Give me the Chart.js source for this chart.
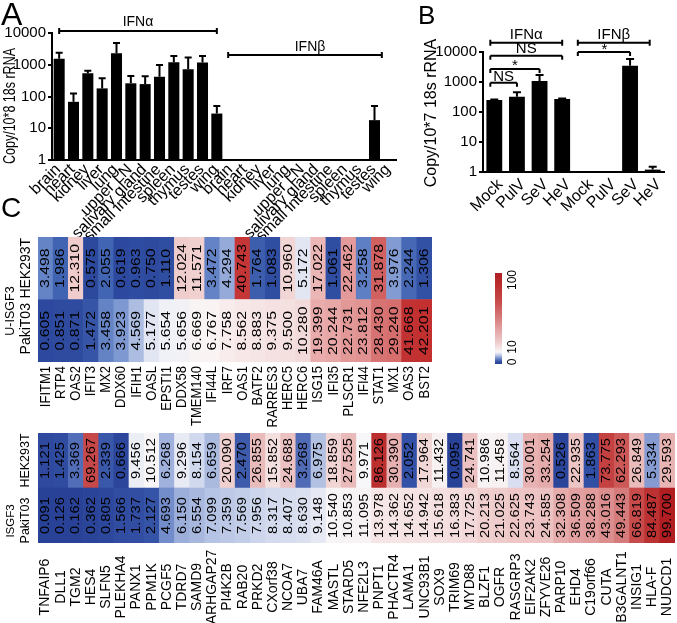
<!DOCTYPE html>
<html>
<head>
<meta charset="utf-8">
<script src="https://cdn.jsdelivr.net/npm/chart.js@4.4.1/dist/chart.umd.min.js"></script>
<style>
  body { margin: 0; background: #fff; }
  #wrap { position: relative; width: 677px; height: 623px; overflow: hidden; background: #fff; }
  canvas { position: absolute; }
  .letter { position: absolute; font-family: "Liberation Sans", Arial, sans-serif; color: #000; line-height: 1; }
</style>
</head>
<body>
<div id="wrap">
  <canvas id="chartA" width="412" height="262" style="left:0;top:0"></canvas>
  <canvas id="chartB" width="267" height="255" style="left:410px;top:0"></canvas>
  <canvas id="heat1" width="677" height="215" style="left:0;top:228px"></canvas>
  <canvas id="heat2" width="677" height="198" style="left:0;top:425px"></canvas>
  <div class="letter" style="left:1px;top:-2px;font-size:32px">A</div>
  <div class="letter" style="left:418px;top:2px;font-size:26px">B</div>
  <div class="letter" style="left:1px;top:194px;font-size:28px">C</div>
</div>
<script>
// ---- 데이터 ----
const tissues = ["brain", "heart", "kidney", "liver", "lung", "upper LN", "salivary gland",
                 "small intestine", "spleen", "thymus", "testes", "wing"];
const tissueAlpha    = [1550, 68, 540, 180, 2300, 260, 246, 420, 1200, 720, 1170, 29];
const tissueAlphaErr = [2400, 125, 650, 375, 4800, 445, 435, 990, 1900, 1690, 1900, 50];
const tissueBeta     = [null, null, null, null, null, null, null, null, null, null, 18, null];
const tissueBetaErr  = [null, null, null, null, null, null, null, null, null, null, 50, null];

const viruses = ["Mock", "PulV", "SeV", "HeV"];
const virusAlpha    = [250, 325, 1080, 270];
const virusAlphaErr = [262, 455, 1700, 280];
const virusBeta     = [null, null, 3500, 1.2];
const virusBetaErr  = [null, null, 5800, 1.5];

const logTicks = [1, 10, 100, 1000, 10000];

const uGenes = ["IFITM1", "RTP4", "OAS2", "IFIT3", "MX2", "DDX60", "IFIH1", "OASL", "EPSTI1", "DDX58",
                "TMEM140", "IFI44L", "IRF7", "OAS1", "BATF2", "RARRES3", "HERC5", "HERC6", "ISG15", "IFI35",
                "PLSCR1", "IFI44", "STAT1", "MX1", "OAS3", "BST2"];
const uHek  = [3.498, 1.986, 12.310, 0.575, 2.055, 0.619, 0.963, 0.750, 1.110, 12.024, 11.571, 3.472, 4.294,
               40.743, 1.764, 1.083, 10.960, 5.172, 17.022, 1.061, 22.462, 3.258, 31.878, 3.976, 2.244, 1.306];
const uPaki = [0.605, 0.851, 0.871, 1.472, 3.458, 3.923, 4.569, 5.177, 5.654, 5.656, 6.669, 6.767, 7.758,
               8.562, 8.883, 9.375, 9.500, 10.280, 19.399, 20.244, 22.731, 23.812, 28.430, 29.240, 41.668, 42.201];

const isgGenes = ["TNFAIP6", "DLL1", "TGM2", "HES4", "SLFN5", "PLEKHA4", "PANX1", "PPM1K", "PCGF5", "TDRD7",
                  "SAMD9", "ARHGAP27", "PI4K2B", "RAB20", "PRKD2", "CXorf38", "NCOA7", "UBA7", "FAM46A", "MASTL",
                  "STARD5", "NFE2L3", "PNPT1", "PHACTR4", "LAMA1", "UNC93B1", "SOX9", "TRIM69", "MYD88", "BLZF1",
                  "OGFR", "RASGRP3", "EIF2AK2", "ZFYVE26", "PARP10", "EHD4", "C19orf66", "CUTA", "B3GALNT1",
                  "INSIG1", "HLA-F", "NUDCD1"];
const isgHek  = [1.121, 1.425, 3.369, 69.267, 2.339, 0.666, 9.456, 10.512, 6.268, 9.296, 8.154, 6.659, 20.090,
                 2.470, 26.855, 15.852, 24.688, 3.268, 6.975, 18.859, 27.525, 9.971, 86.126, 30.390, 2.052,
                 17.964, 11.432, 0.095, 24.741, 10.986, 11.458, 8.564, 30.001, 33.254, 0.526, 22.935, 1.863,
                 73.775, 62.293, 26.849, 5.334, 29.593];
const isgPaki = [0.091, 0.126, 0.162, 0.362, 0.805, 1.566, 1.737, 2.127, 4.693, 6.150, 6.554, 7.099, 7.359,
                 7.569, 7.956, 8.317, 8.407, 8.630, 9.148, 10.540, 10.853, 11.095, 13.978, 14.362, 14.652,
                 14.942, 15.618, 16.383, 17.725, 20.213, 21.025, 22.625, 23.743, 24.585, 32.308, 36.509, 38.288,
                 43.016, 49.443, 66.819, 84.487, 99.700];

// 색 척도 (히트맵마다 따로)
const uStops = [
  [0, [40, 68, 155]], [1.2, [48, 78, 162]], [2, [65, 100, 178]], [3.5, [100, 132, 198]],
  [4.3, [150, 170, 218]], [5.2, [228, 232, 244]], [6, [250, 248, 248]], [9, [246, 228, 228]],
  [12, [240, 205, 205]], [20, [232, 168, 168]], [24, [225, 145, 145]], [30, [212, 105, 105]],
  [42, [195, 48, 48]], [100, [170, 25, 30]]
];
const isgStops = [
  [0, [40, 65, 150]], [2, [50, 80, 165]], [4.7, [115, 140, 202]], [6.3, [160, 178, 220]],
  [8, [205, 214, 236]], [10, [248, 247, 249]], [15, [245, 226, 226]], [22, [238, 200, 200]],
  [35, [228, 165, 165]], [45, [218, 135, 135]], [67, [200, 75, 75]], [85, [188, 48, 48]],
  [100, [176, 30, 34]]
];

const FONT = "'Liberation Sans', Arial, sans-serif";
Chart.defaults.font.family = FONT;
Chart.defaults.color = '#000';

function heatColor(v, stops) {
  for (let i = 1; i < stops.length; i++) {
    const [v1, c1] = stops[i];
    if (v <= v1 || i === stops.length - 1) {
      const [v0, c0] = stops[i - 1];
      const t = Math.max(0, Math.min(1, (v - v0) / (v1 - v0)));
      const c = c0.map((a, k) => Math.round(a + (c1[k] - a) * t));
      return `rgb(${c[0]},${c[1]},${c[2]})`;
    }
  }
}

// sx: 글자 방향으로 늘림, sy: 글자 높이 방향으로 늘림
function drawText(ctx, str, x, y, size, opts = {}) {
  ctx.save();
  ctx.translate(x, y);
  if (opts.rotate) ctx.rotate(opts.rotate);
  ctx.scale(opts.sx || 1, opts.sy || 1);
  ctx.font = `${size}px ${FONT}`;
  ctx.fillStyle = '#000';
  ctx.textAlign = opts.align || 'center';
  ctx.textBaseline = opts.baseline || 'middle';
  ctx.fillText(str, 0, 0);
  ctx.restore();
}

// 괄호선 (up: 위쪽 끝선, down: 아래쪽 끝선)
function bracket(ctx, x1, x2, y, up, down) {
  ctx.save();
  ctx.strokeStyle = '#000';
  ctx.lineWidth = 2;
  ctx.beginPath();
  ctx.moveTo(x1, y); ctx.lineTo(x2, y);
  ctx.moveTo(x1, y - up); ctx.lineTo(x1, y + down);
  ctx.moveTo(x2, y - up); ctx.lineTo(x2, y + down);
  ctx.stroke();
  ctx.restore();
}

function errorBars(chart, uppers, cap) {
  const {ctx, scales: {y}} = chart;
  const bars = chart.getDatasetMeta(0).data;
  ctx.save();
  ctx.strokeStyle = '#000';
  ctx.lineWidth = 2;
  uppers.forEach((u, i) => {
    if (u == null) return;
    const b = bars[i];
    const top = y.getPixelForValue(u);
    ctx.beginPath();
    ctx.moveTo(b.x, b.y); ctx.lineTo(b.x, top);
    ctx.moveTo(b.x - cap, top); ctx.lineTo(b.x + cap, top);
    ctx.stroke();
  });
  ctx.restore();
}

// 45도 x축 글자
function slantLabels(chart, size, dx, dy) {
  const {ctx, chartArea, scales: {x}} = chart;
  chart.data.labels.forEach((lab, i) => {
    drawText(ctx, lab, x.getPixelForValue(i) + dx, chartArea.bottom + dy, size,
      { rotate: -Math.PI / 4, align: 'right' });
  });
}

/**
 * 로그 막대 차트 (A, B)
 */
function barPanel(canvas, labels, values, o, overlay) {
  return new Chart(canvas, {
    type: 'bar',
    data: {
      labels: labels,
      datasets: [{ data: values, backgroundColor: '#000', barPercentage: o.barPct, categoryPercentage: 1 }]
    },
    options: {
      responsive: false,
      animation: false,
      devicePixelRatio: 1,
      layout: { padding: o.pad },
      plugins: { legend: { display: false }, tooltip: { enabled: false } },
      scales: {
        x: {
          grid: { display: false, drawTicks: false },
          border: { color: '#000', width: 2 },
          ticks: { display: false },
          afterFit: s => { s.height = o.xH; }
        },
        y: {
          type: 'logarithmic',
          min: 1,
          max: 10000,
          afterBuildTicks: s => { s.ticks = logTicks.map(v => ({ value: v })); },
          grid: { drawOnChartArea: false, tickLength: 4, color: '#000', lineWidth: 2 },
          border: { color: '#000', width: 2 },
          ticks: { color: '#000', font: { size: 15 }, padding: 2, callback: v => String(v) },
          afterFit: s => { s.width = o.yW; }
        }
      }
    },
    plugins: [overlay]
  });
}

// ---- A ----
barPanel(document.getElementById('chartA'), tissues.concat(tissues), tissueAlpha.concat(tissueBeta),
  { pad: { top: 33, right: 16, left: 0, bottom: 0 }, yW: 52, xH: 102, barPct: 0.77 },
  {
    id: 'panelA',
    afterDraw(chart) {
      const {ctx, scales: {x}} = chart;
      errorBars(chart, tissueAlphaErr.concat(tissueBetaErr), 3.5);
      slantLabels(chart, 16, -1, 7);
      const a0 = x.getPixelForValue(0), a1 = x.getPixelForValue(11);
      const b0 = x.getPixelForValue(12), b1 = x.getPixelForValue(23);
      bracket(ctx, a0, a1, 31, 3, 3);
      bracket(ctx, b0 - 3, b1 - 7, 55, 3, 3);
      drawText(ctx, 'IFNα', (a0 + a1) / 2, 22, 14);
      drawText(ctx, 'IFNβ', (b0 + b1) / 2, 47, 14);
      drawText(ctx, 'Copy/10*8 18s rRNA', 11, 106, 12.5, { rotate: -Math.PI / 2, sy: 1.25 });
    }
  });

// ---- B ----
barPanel(document.getElementById('chartB'), viruses.concat(viruses), virusAlpha.concat(virusBeta),
  { pad: { top: 52, right: 13, left: 0, bottom: 0 }, yW: 73, xH: 83, barPct: 0.7 },
  {
    id: 'panelB',
    afterDraw(chart) {
      const {ctx, scales: {x}} = chart;
      errorBars(chart, virusAlphaErr.concat(virusBetaErr), 4);
      slantLabels(chart, 16, 6, 10);
      const p = i => x.getPixelForValue(i);
      bracket(ctx, p(0) - 4, p(3), 42.7, 3, 3);
      bracket(ctx, p(0) - 4, p(3), 55.7, 0, 4);
      bracket(ctx, p(0) - 4, p(2), 69, 0, 4);
      bracket(ctx, p(0) - 4, p(1), 82.7, 0, 4);
      bracket(ctx, p(4) - 7, p(7) - 3, 42.7, 3, 3);
      bracket(ctx, p(4) - 7, p(6), 52, 0, 4);
      drawText(ctx, 'IFNα', (p(0) + p(3)) / 2 - 2, 35, 15);
      drawText(ctx, 'NS', (p(0) + p(3)) / 2 - 2, 49, 15);
      drawText(ctx, '*', (p(0) + p(2)) / 2 - 2, 66, 15);
      drawText(ctx, 'NS', (p(0) + p(1)) / 2 - 2, 77, 15);
      drawText(ctx, 'IFNβ', (p(4) + p(7)) / 2 - 5, 35, 15);
      drawText(ctx, '*', (p(4) + p(6)) / 2 - 3, 50, 15);
      drawText(ctx, 'Copy/10*7 18s rRNA', 22, 113, 16, { rotate: -Math.PI / 2 });
    }
  });

/**
 * 히트맵 (C) : 쌓은 막대 한 칸 = 한 셀
 */
function heatPanel(canvas, genes, hek, paki, stops, o) {
  return new Chart(canvas, {
    type: 'bar',
    data: {
      labels: genes,
      datasets: [
        { label: 'PakiT03', data: paki.map(() => 1), values: paki, backgroundColor: paki.map(v => heatColor(v, stops)) },
        { label: 'HEK293T', data: hek.map(() => 1), values: hek, backgroundColor: hek.map(v => heatColor(v, stops)) }
      ]
    },
    options: {
      responsive: false,
      animation: false,
      devicePixelRatio: 1,
      layout: { padding: o.pad },
      datasets: { bar: { barPercentage: 1, categoryPercentage: 1, borderWidth: 0 } },
      plugins: { legend: { display: false }, tooltip: { enabled: false } },
      scales: {
        x: { stacked: true, display: false },
        y: { stacked: true, display: false, min: 0, max: 2 }
      }
    },
    plugins: [{
      id: 'heatText',
      afterDraw(chart) {
        const {ctx, chartArea, scales: {x}} = chart;
        chart.data.datasets.forEach((ds, di) => {
          const meta = chart.getDatasetMeta(di);
          meta.data.forEach((cell, i) => {
            drawText(ctx, ds.values[i].toFixed(3), cell.x, (cell.y + cell.base) / 2, o.valFont,
              { rotate: -Math.PI / 2, sx: o.stretch });
          });
          const m = meta.data[0];
          drawText(ctx, ds.label, 26, (m.y + m.base) / 2 + o.rowShift[di], o.rowFont, { rotate: -Math.PI / 2 });
        });
        genes.forEach((g, i) => {
          drawText(ctx, g, x.getPixelForValue(i), chartArea.bottom + o.labelGap, o.geneFont,
            { rotate: -Math.PI / 2, align: o.labelAlign, sy: o.geneSy });
        });
        drawText(ctx, o.group, 11, o.groupY, o.groupFont, { rotate: -Math.PI / 2 });
        if (o.colorbar) o.colorbar(ctx);
      }
    }]
  });
}

// 색 막대 (범례)
function colorbar(ctx) {
  const x = 495, w = 7, top = 45, y10 = 124, bottom = 136;
  const g = ctx.createLinearGradient(0, bottom, 0, top);
  const span = bottom - top;
  for (let v = 0; v <= 10; v += 1) g.addColorStop(((v / 10) * (bottom - y10)) / span, heatColor(v, isgStops));
  for (let v = 10; v <= 100; v += 5) g.addColorStop((bottom - y10 + (v - 10) / 90 * (y10 - top)) / span, heatColor(v, isgStops));
  ctx.fillStyle = g;
  ctx.fillRect(x, top, w, span);
  drawText(ctx, '100', 513, top + 7, 12, { rotate: -Math.PI / 2 });
  drawText(ctx, '10', 513, y10 - 5, 12, { rotate: -Math.PI / 2 });
  drawText(ctx, '0', 513, bottom - 2, 12, { rotate: -Math.PI / 2 });
}

heatPanel(document.getElementById('heat1'), uGenes, uHek, uPaki, uStops, {
  pad: { left: 38, right: 245, top: 9, bottom: 81 },
  valFont: 13, stretch: 1.22, rowFont: 14, geneFont: 13, geneSy: 1.15, labelGap: 4, labelAlign: 'right',
  rowShift: [-2, 0], group: 'U-ISGF3', groupFont: 12.5, groupY: 83, colorbar: colorbar
});

heatPanel(document.getElementById('heat2'), isgGenes, isgHek, isgPaki, isgStops, {
  pad: { left: 38, right: 2, top: 8, bottom: 80 },
  valFont: 13, stretch: 1.13, rowFont: 12.5, geneFont: 14, geneSy: 1, labelGap: 44, labelAlign: 'center',
  rowShift: [5, 0], group: 'ISGF3', groupFont: 11.5, groupY: 96, colorbar: null
});
</script>
</body>
</html>
